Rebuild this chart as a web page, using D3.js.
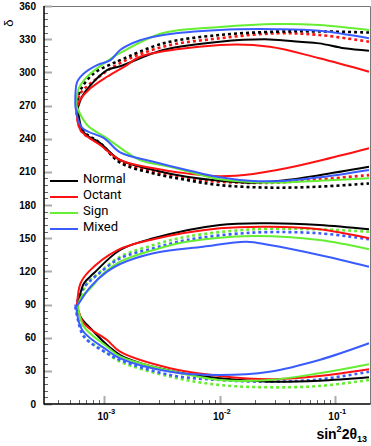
<!DOCTYPE html>
<meta charset="utf-8">
<html>
  <head>
    <style>
      body { margin: 0; background: #fff; }
      text.tick {
        font-family: "Liberation Sans", Arial, sans-serif;
        font-weight: bold;
        font-size: 10px;
        fill: #000;
      }
      text.legend {
        font-family: Roboto, "Open Sans", sans-serif;
        font-size: 13px;
        fill: #000;
      }
      path.curve { fill: none; stroke-width: 2px; stroke-linejoin: round; }
      path.dotted { stroke-width: 2.6px; stroke-dasharray: 3,3; }
    </style>
    <script src="https://d3js.org/d3.v7.min.js"></script>
  </head>
  <body>
    <div id="chart"></div>
    <script type="text/javascript">
      // contours: [sin^2 2theta13, delta], top branch -> tip -> bottom branch
      var normalUpper = [[0.196,319.6],[0.12,321.7],[0.0728,326.2],[0.049,327.7],[0.027,329.8],[0.01,327.7],[3.23e-3,320.2],[1.37e-3,305.5],[1.055e-3,302],[7.6e-4,288.5],[6.4e-4,278],[5.9e-4,268],
                         [6.6e-4,246],[9.2e-4,236],[1.35e-3,221],[2.66e-3,211.7],[5.16e-3,205.6],[0.01,202],[0.0194,200.2],[0.0376,202.6],[0.0728,207],[0.196,214.6]];
      var octantUpper = [[0.196,300.6],[0.0728,312.7],[0.027,323.2],[0.01,324.7],[2.04e-3,314.1],[1.57e-3,306.6],[1.055e-3,296],[7.57e-4,285.5],[6.2e-4,275.5],[5.75e-4,268],
                         [6.2e-4,247.8],[9.2e-4,234.3],[1.37e-3,220.7],[2.66e-3,213.2],[5.16e-3,208.6],[0.01,206],[0.0194,208],[0.0376,213.2],[0.0728,220],[0.196,231.3]];
      var signUpper = [[0.196,338.3],[0.0728,342.8],[0.031,343.7],[0.01,341],[3.23e-3,335.6],[1.37e-3,317.5],[1.055e-3,310],[7.1e-4,296],[6.0e-4,285.5],[5.7e-4,270],
                       [7.1e-4,252.4],[1.055e-3,240.3],[2.04e-3,220.7],[3.71e-3,214.6],[0.01,203.2],[0.027,200.2],[0.0728,202],[0.196,204.1]];
      var mixedUpper = [[0.196,330.8],[0.0728,337.6],[0.031,339],[0.01,338.3],[3.23e-3,333.8],[2.04e-3,329],[1.37e-3,320.2],[1.13e-3,311],[8.65e-4,306.6],[6.64e-4,299],[5.82e-4,291.5],[5.6e-4,270],
                        [6.4e-4,250],[1.0e-3,240.3],[1.37e-3,227.6],[2.66e-3,219.2],[5.16e-3,211.7],[0.01,205],[0.0194,201.7],[0.0376,202],[0.0728,205],[0.196,211.7]];
      var normalUpperDot = [[0.196,336],[0.0728,337],[0.031,336.8],[0.01,333.8],[3.23e-3,326.2],[1.37e-3,311],[1.2e-3,308.4],[8.09e-4,299],[6.21e-4,284],[5.7e-4,269],
                            [6.4e-4,248],[9.2e-4,236],[1.37e-3,218.3],[2.66e-3,208.6],[5.16e-3,202.6],[0.01,198],[0.027,195.7],[0.0728,196.6],[0.196,199.5]];
      var octantUpperDot = [[0.196,327.7],[0.0728,333.8],[0.031,335.3],[0.01,330.8],[3.23e-3,323.2],[1.37e-3,308.4],[8.65e-4,294.6],[6.21e-4,281],[5.7e-4,269],
                            [6.3e-4,247],[9.2e-4,235],[1.37e-3,219.5],[2.66e-3,210],[5.16e-3,204],[0.01,201],[0.027,200],[0.0728,203.2],[0.196,207]];

      var normalLower = [[0.196,158],[0.0728,161.9],[0.027,163.4],[0.01,161.9],[2.66e-3,149.9],[1.37e-3,139.3],[8.09e-4,118.2],[6.64e-4,109],[6.0e-4,94],[5.8e-4,89.5],
                         [6.2e-4,79],[7.57e-4,68.5],[1.37e-3,44.3],[3.71e-3,30.1],[0.01,23.2],[0.027,20.2],[0.0728,21.1],[0.196,24.2]];
      var octantLower = [[0.196,149.9],[0.0728,158],[0.027,160.4],[0.01,158.9],[2.66e-3,149],[1.29e-3,139],[7.32e-4,119.7],[6.21e-4,109],[5.8e-4,90],
                         [6.64e-4,73],[1.055e-3,57.9],[1.37e-3,47.3],[3.71e-3,32.3],[0.01,25.3],[0.027,22.3],[0.0728,25.3],[0.196,31.4]];
      var signLower = [[0.196,140],[0.0728,148.3],[0.0194,152],[5.16e-3,146.8],[2.66e-3,139.3],[1.37e-3,128.7],[9.86e-4,118.2],[7.57e-4,104.6],[6.21e-4,95.6],[5.9e-4,88],
                       [6.64e-4,70],[1.055e-3,51.8],[1.37e-3,43],[3.71e-3,30],[0.01,21.7],[0.027,21.7],[0.0728,27.8],[0.196,35.9]];
      var mixedLower = [[0.196,124.2],[0.0728,134.8],[0.027,143.8],[0.017,146.8],[7.18e-3,142.3],[2.66e-3,136.3],[1.37e-3,126.6],[1.055e-3,119.7],[7.57e-4,106],[6.0e-4,91],[5.7e-4,88],
                        [6.42e-4,67],[1.055e-3,48.8],[1.37e-3,41.3],[3.71e-3,29.2],[0.01,26.2],[0.027,29.2],[0.0728,39.8],[0.196,54.9]];
      var signLowerDot = [[0.196,155.8],[0.0728,158],[0.0194,158],[5.16e-3,151.3],[2.66e-3,143.8],[1.37e-3,133.2],[9.24e-4,119.7],[7.1e-4,109],[5.7e-4,88],
                          [6.2e-4,78],[6.64e-4,62],[1.055e-3,46],[1.37e-3,38.3],[3.71e-3,24.7],[0.01,17.2],[0.027,15.1],[0.0728,16.3],[0.196,21.7]];
      var mixedLowerDot = [[0.196,149],[0.0728,154.4],[0.0194,155],[5.16e-3,148.3],[2.66e-3,140.8],[1.37e-3,131.8],[8.65e-4,116.7],[6.6e-4,105],[5.6e-4,88],
                           [5.82e-4,79],[6.64e-4,61],[1.055e-3,45.9],[1.37e-3,39.8],[3.71e-3,26.2],[0.01,21.7],[0.027,20.2],[0.0728,22.3],[0.196,29.2]];

      var names = ["Normal", "Octant", "Sign", "Mixed"],
          colors = ["#000000", "#ff1111", "#66ee33", "#3a5cff"];

      var series = [
        { c: 1, dot: true,  d: octantUpperDot },
        { c: 0, dot: true,  d: normalUpperDot },
        { c: 2, dot: true,  d: signLowerDot },
        { c: 3, dot: true,  d: mixedLowerDot },
        { c: 0, dot: false, d: normalUpper },
        { c: 0, dot: false, d: normalLower },
        { c: 1, dot: false, d: octantUpper },
        { c: 1, dot: false, d: octantLower },
        { c: 2, dot: false, d: signUpper },
        { c: 2, dot: false, d: signLower },
        { c: 3, dot: false, d: mixedUpper },
        { c: 3, dot: false, d: mixedLower }
      ];

      var W = 371, H = 446,
          mLeft = 44, mRight = 370, mTop = 6, mBottom = 404;

      var x = d3.scaleLog().domain([3e-4, 0.2]).range([mLeft, mRight]);
      var y = d3.scaleLinear().domain([0, 360]).range([mBottom, mTop]);

      var svg = d3.select("#chart").append("svg")
          .attr("width", W)
          .attr("height", H);

      svg.append("clipPath").attr("id", "clip")
        .append("rect")
          .attr("x", mLeft).attr("y", mTop)
          .attr("width", mRight - mLeft).attr("height", mBottom - mTop);

      // frame
      svg.append("path")
          .attr("d", "M" + mLeft + "," + (mTop + 0.5) + "H" + (mRight + 0.5) + "V" + mBottom)
          .attr("fill", "none").attr("stroke", "#777").attr("stroke-width", 1);

      // y ticks
      svg.selectAll(".ytick")
          .data(d3.range(0, 361, 6))
          .enter().append("line")
            .attr("x1", mLeft)
            .attr("x2", function(d) { return mLeft + (d % 30 === 0 ? 8 : 4); })
            .attr("y1", function(d) { return Math.round(y(d)) + 0.5; })
            .attr("y2", function(d) { return Math.round(y(d)) + 0.5; })
            .attr("stroke", function(d) { return d % 30 === 0 ? "#aaa" : "#666"; })
            .attr("stroke-width", function(d) { return d % 30 === 0 ? 2 : 1; });

      svg.selectAll(".ylabel")
          .data(d3.range(0, 361, 30))
          .enter().append("text")
            .attr("class", "tick")
            .attr("x", 36)
            .attr("y", function(d) { return y(d); })
            .attr("dy", "0.36em")
            .style("text-anchor", "end")
            .text(function(d) { return d; });

      // x ticks
      var xt = x.ticks().filter(function(d) { return d > 3.05e-4 && d < 0.199; });
      function isMajor(d) { return Math.abs(Math.log10(d) - Math.round(Math.log10(d))) < 1e-6; }
      svg.selectAll(".xtick")
          .data(xt)
          .enter().append("line")
            .attr("x1", function(d) { return Math.round(x(d)) + 0.5; })
            .attr("x2", function(d) { return Math.round(x(d)) + 0.5; })
            .attr("y1", mBottom)
            .attr("y2", function(d) { return mBottom - (isMajor(d) ? 8 : 4); })
            .attr("stroke", function(d) { return isMajor(d) ? "#aaa" : "#666"; })
            .attr("stroke-width", function(d) { return isMajor(d) ? 2 : 1; });

      var xl = svg.selectAll(".xlabel")
          .data(xt.filter(isMajor))
          .enter().append("text")
            .attr("class", "tick")
            .attr("x", function(d) { return x(d) + 2; })
            .attr("y", 420)
            .style("text-anchor", "middle");
      xl.append("tspan").text("10");
      xl.append("tspan").attr("dy", -6).style("font-size", "7.5px")
          .text(function(d) { return "-" + Math.round(-Math.log10(d)); });

      // axes lines
      svg.append("line").attr("x1", mLeft).attr("x2", mLeft).attr("y1", mTop).attr("y2", mBottom + 0.5)
          .attr("stroke", "#000").attr("stroke-width", 1.5);
      svg.append("line").attr("x1", mLeft).attr("x2", mRight + 0.5).attr("y1", mBottom).attr("y2", mBottom)
          .attr("stroke", "#000").attr("stroke-width", 1.5);

      // axis titles
      var xTitle = svg.append("text")
          .attr("class", "tick")
          .attr("x", 367).attr("y", 439)
          .style("text-anchor", "end")
          .style("font-size", "14px");
      xTitle.append("tspan").text("sin");
      xTitle.append("tspan").attr("dy", -7).style("font-size", "9px").text("2");
      xTitle.append("tspan").attr("dy", 7).text("2θ");
      xTitle.append("tspan").attr("dy", 3).style("font-size", "9px").text("13");

      svg.append("text")
          .attr("class", "tick")
          .attr("transform", "translate(13,23) rotate(-90)")
          .style("text-anchor", "middle")
          .style("font-size", "13px")
          .style("font-weight", "normal")
          .text("δ");

      // curves: smooth each branch separately so the tip stays sharp
      var line = d3.line()
          .x(function(d) { return x(d[0]); })
          .y(function(d) { return y(d[1]); })
          .curve(d3.curveCatmullRom.alpha(0.5));

      function contourPath(d) {
        var i = d3.minIndex(d, function(p) { return p[0]; });
        return line(d.slice(0, i + 1)) + line(d.slice(i));
      }

      svg.append("g").attr("clip-path", "url(#clip)")
        .selectAll("path")
          .data(series)
          .enter().append("path")
            .attr("class", function(d) { return d.dot ? "curve dotted" : "curve"; })
            .attr("stroke", function(d) { return colors[d.c]; })
            .attr("d", function(d) { return contourPath(d.d); });

      // legend
      var legendY = [181, 197, 213, 229];
      var lg = svg.selectAll(".lg")
          .data(names)
          .enter().append("g");
      lg.append("line")
          .attr("x1", 50).attr("x2", 78)
          .attr("y1", function(d, i) { return legendY[i]; })
          .attr("y2", function(d, i) { return legendY[i]; })
          .attr("stroke", function(d, i) { return colors[i]; })
          .attr("stroke-width", 2);
      lg.append("text")
          .attr("class", "legend")
          .attr("x", 83)
          .attr("y", function(d, i) { return legendY[i] + 2; })
          .text(function(d) { return d; });
    </script>
  </body>
</html>
